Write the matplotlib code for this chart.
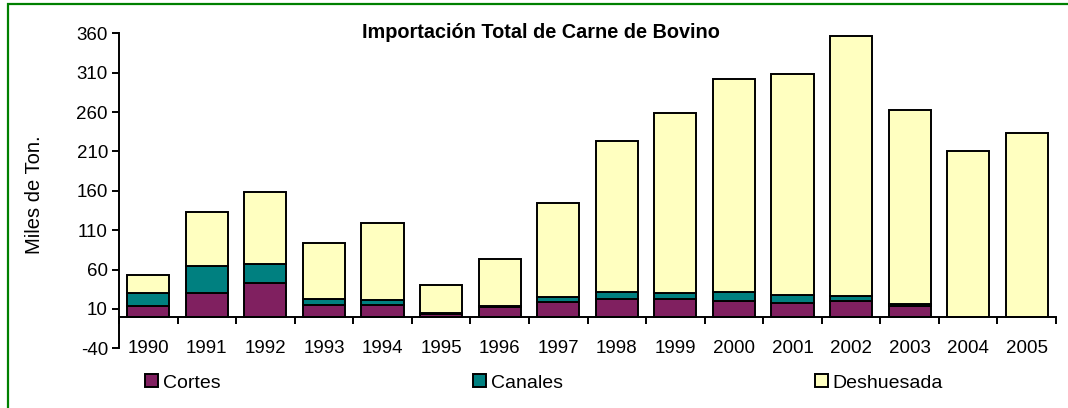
import numpy as np
import matplotlib
matplotlib.use('Agg')
import matplotlib.pyplot as plt
from matplotlib.patches import Rectangle, Patch

plt.rcParams['font.family'] = ['Liberation Sans', 'DejaVu Sans']
plt.rcParams['axes.unicode_minus'] = False

years = ['1990', '1991', '1992', '1993', '1994', '1995', '1996', '1997',
         '1998', '1999', '2000', '2001', '2002', '2003', '2004', '2005']
cortes = [13, 30, 43, 15, 15, 4, 12, 19, 23, 22, 20, 18, 20, 14, 0, 0]
canales = [17, 35, 24, 8, 6, 1, 1.5, 6, 9, 8, 11, 9, 6, 2, 0, 0]
deshuesada = [23, 68, 91, 71, 98, 35, 60, 120, 191, 229, 271, 282, 331, 247, 211, 233]

col_cortes = '#802060'
col_canales = '#008080'
col_desh = '#FFFFC0'

W, H = 1068, 408
fig = plt.figure(figsize=(W / 100, H / 100), dpi=100)
ax = fig.add_axes([119 / W, 1 - 348.2 / H, (1056 - 119) / W, (348.2 - 33.4) / H])

x = np.arange(len(years))
c1 = np.array(cortes, dtype=float)
c2 = np.array(canales, dtype=float)
c3 = np.array(deshuesada, dtype=float)

bw = 0.72
ax.bar(x, c1, bw, color=col_cortes, edgecolor='black', linewidth=1.4, zorder=2)
ax.bar(x, c2, bw, bottom=c1, color=col_canales, edgecolor='black', linewidth=1.4, zorder=2)
ax.bar(x, c3, bw, bottom=c1 + c2, color=col_desh, edgecolor='black', linewidth=1.4, zorder=2)

ax.set_xlim(-0.5, len(years) - 0.5)
ax.set_ylim(-40, 360)
ax.set_yticks(np.arange(-40, 361, 50))

ax.spines['top'].set_visible(False)
ax.spines['right'].set_visible(False)
ax.spines['bottom'].set_position(('data', 0))
ax.spines['bottom'].set_linewidth(1.4)
ax.spines['left'].set_linewidth(1.4)
ax.spines['bottom'].set_zorder(3)

# major ticks at the category boundaries, labels on minor ticks at the centres
ax.set_xticks(np.arange(-0.5, len(years), 1.0))
ax.set_xticklabels([])
ax.set_xticks(x, minor=True)
ax.set_xticklabels(years, minor=True)
ax.tick_params(axis='x', which='major', direction='out', length=5, width=1.4)
ax.tick_params(axis='x', which='minor', length=0, pad=16.5, labelsize=13.5)
ax.tick_params(axis='y', direction='out', length=5, width=1.4, pad=3, labelsize=13.5)

fig.text(541 / W, 1 - 32 / H, 'Importación Total de Carne de Bovino',
         ha='center', va='center', fontsize=14.3, fontweight='bold')
fig.text(34 / W, 1 - 195 / H, 'Miles de Ton.', rotation=90,
         ha='center', va='center', fontsize=14.5)

labels = ['Cortes', 'Canales', 'Deshuesada']
colors = [col_cortes, col_canales, col_desh]
lx = [145, 473, 815]
for lab, col, px in zip(labels, colors, lx):
    leg = fig.legend(handles=[Patch(facecolor=col, edgecolor='black', linewidth=1.4)],
                     labels=[lab], loc='center left',
                     bbox_to_anchor=(px / W, 1 - 383 / H), frameon=False,
                     fontsize=14, handlelength=0.65, handleheight=0.65,
                     handletextpad=0.25, borderpad=0, borderaxespad=0)

fig.patches.append(Rectangle((7.5 / W, -0.1), 1.2, 1 - 4 / H + 0.1,
                             transform=fig.transFigure, fill=False,
                             edgecolor='#008000', linewidth=1.6))

fig.savefig('out.png', dpi=100)
